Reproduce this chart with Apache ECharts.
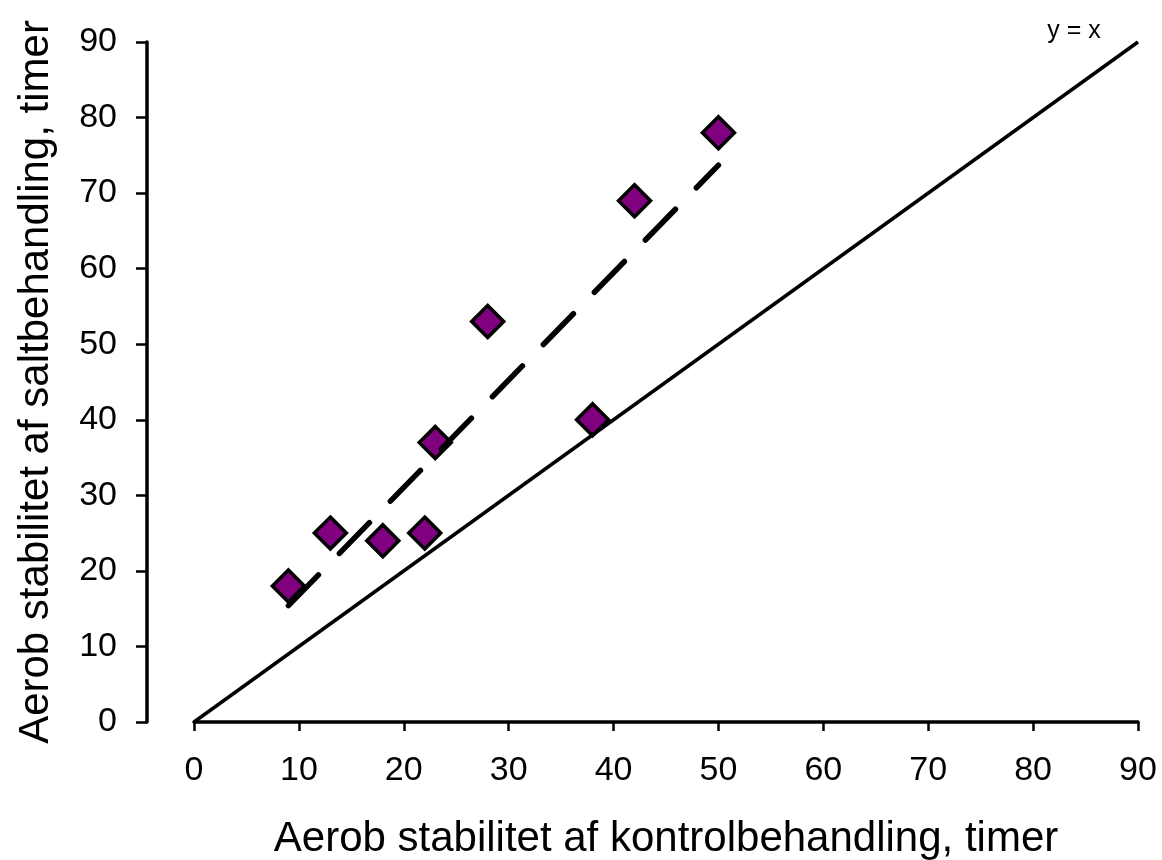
<!DOCTYPE html>
<html>
<head>
<meta charset="utf-8">
<script src="https://cdn.jsdelivr.net/npm/echarts@6/dist/echarts.min.js"></script>
<style>html,body{margin:0;padding:0;background:#fff;overflow:hidden}#c{width:1162px;height:860px}</style>
</head>
<body>
<div id="c"></div>
<script>
var controlHours = [9, 13, 18, 22, 23, 28, 38, 42, 50];
var saltHours = [18, 25, 24, 25, 37, 53, 40, 69, 78];
var trendX = [9, 50];
var trendY = [15.4, 73.7];
var identityX = [0, 90];
var identityY = [0, 90];
var xName = 'Aerob stabilitet af kontrolbehandling, timer';
var yName = 'Aerob stabilitet af saltbehandling, timer';
var identityLabel = 'y = x';
var identityLabelPos = [83.9, 91.4];

var pts = controlHours.map(function (x, i) { return [x, saltHours[i]]; });
var trend = trendX.map(function (x, i) { return [x, trendY[i]]; });
var ident = identityX.map(function (x, i) { return [x, identityY[i]]; });

var font = 'Liberation Sans, Arial, sans-serif';
var chart = echarts.init(document.getElementById('c'));
chart.setOption({
  animation: false,
  grid: { left: 194, right: 24, top: 42, bottom: 138, containLabel: false, outerBoundsMode: 'none' },
  xAxis: {
    type: 'value', min: 0, max: 90, interval: 10,
    name: xName, nameLocation: 'middle', nameGap: 96,
    nameTextStyle: { fontFamily: font, fontSize: 42, color: '#000' },
    axisLine: { onZero: false, lineStyle: { color: '#000', width: 3.5 } },
    axisTick: { show: true, length: 9, lineStyle: { color: '#000', width: 2.5 } },
    axisLabel: { fontFamily: font, fontSize: 34, color: '#000', margin: 32 },
    splitLine: { show: false }
  },
  yAxis: {
    type: 'value', min: 0, max: 90, interval: 10,
    offset: 47,
    name: yName, nameLocation: 'middle', nameGap: 90,
    nameTextStyle: { fontFamily: font, fontSize: 42, color: '#000' },
    axisLine: { show: true, onZero: false, lineStyle: { color: '#000', width: 3.5 } },
    axisTick: { show: true, length: 11, lineStyle: { color: '#000', width: 2.5 } },
    axisLabel: { fontFamily: font, fontSize: 34, color: '#000', margin: 30 },
    splitLine: { show: false }
  },
  series: [
    {
      type: 'line', data: ident, symbol: 'none', silent: true,
      lineStyle: { color: '#000', width: 3.5 }
    },
    {
      type: 'line', data: trend, symbol: 'none', silent: true,
      lineStyle: { color: '#000', width: 5.5, type: [43, 30], cap: 'round' }
    },
    {
      type: 'scatter', data: pts, symbol: 'diamond', symbolSize: 32,
      itemStyle: { color: '#800080', borderColor: '#000', borderWidth: 3.5, opacity: 1 }
    },
    {
      type: 'scatter', data: [identityLabelPos], symbolSize: 1, clip: false, silent: true,
      itemStyle: { color: 'rgba(0,0,0,0)' },
      label: { show: true, position: 'inside', formatter: identityLabel, fontFamily: font, fontSize: 25, color: '#000', opacity: 1 }
    }
  ]
});
</script>
</body>
</html>
